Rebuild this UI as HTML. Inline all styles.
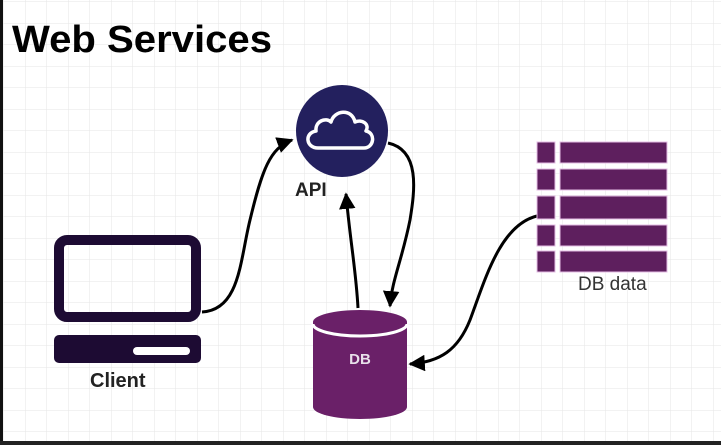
<!DOCTYPE html>
<html><head><meta charset="utf-8"><style>
html,body{margin:0;padding:0;background:#fff}
svg{display:block}
</style></head><body>
<svg width="721" height="445" viewBox="0 0 721 445" xmlns="http://www.w3.org/2000/svg">
<defs>
<pattern id="g" width="21.5" height="21.5" patternUnits="userSpaceOnUse" x="4" y="2">
<path d="M21.5 0V21.5M0 21.5H21.5" stroke="#e6e6e6" stroke-width="1" fill="none"/>
</pattern>
<marker id="a" viewBox="0 0 10 10" refX="9" refY="5" markerWidth="5.5" markerHeight="5.5" orient="auto">
<path d="M0 0L10 5L0 10z" fill="#000"/>
</marker>
</defs>
<rect width="721" height="445" fill="#fff"/>
<rect width="721" height="445" fill="url(#g)"/>
<rect x="0" y="0" width="3" height="445" fill="#111"/>
<rect x="0" y="441" width="721" height="4" fill="#222"/>
<text x="12" y="52" font-family="Liberation Sans, sans-serif" font-weight="bold" font-size="38" textLength="260" lengthAdjust="spacingAndGlyphs" fill="#000">Web Services</text>

<g fill="none" stroke="#000" stroke-width="3">
<path d="M202 312 C240 310 240 260 250 220 C262 170 270 148 292 140" marker-end="url(#a)"/>
<path d="M388 143 C420 150 415 190 410 220 C402 260 392 280 390 306" marker-end="url(#a)"/>
<path d="M358 308 C356 270 350 240 346 194" marker-end="url(#a)"/>
<path d="M537 216 C500 225 485 280 470 320 C458 350 440 362 410 364" marker-end="url(#a)"/>
</g>

<circle cx="342" cy="131" r="46" fill="#23205e"/>
<path d="M318 148 C306 148 304 133 316 131 C315 121 326 117 331 122 C334 110 352 108 355 122 C362 119 370 124 366 131 C376 133 374 148 364 148 Z" fill="none" stroke="#fff" stroke-width="3.5" stroke-linejoin="round"/>
<text x="295" y="196" font-family="Liberation Sans, sans-serif" font-weight="bold" font-size="19" fill="#222">API</text>

<rect x="59" y="240" width="137" height="77" rx="8" fill="none" stroke="#1d0b33" stroke-width="10"/>
<rect x="54" y="335" width="147" height="28" rx="5" fill="#1d0b33"/>
<rect x="133" y="347" width="57" height="8" rx="4" fill="#fff"/>
<text x="90" y="387" font-family="Liberation Sans, sans-serif" font-weight="bold" font-size="20" fill="#222">Client</text>

<path d="M313 322 L313 407 A47 12 0 0 0 407 407 L407 322 Z" fill="#6a2068"/>
<ellipse cx="360" cy="322" rx="47" ry="12" fill="#6a2068"/>
<path d="M313 324 A47 12 0 0 0 407 324" fill="none" stroke="#fff" stroke-width="3"/>
<text x="360" y="364" text-anchor="middle" font-family="Liberation Sans, sans-serif" font-weight="bold" font-size="15" fill="#e8e0ea">DB</text>

<g fill="#5e1f5e" stroke="#e4bde4" stroke-width="1">
<rect x="537" y="142" width="18" height="21"/><rect x="560" y="142" width="107" height="21"/>
<rect x="537" y="169" width="18" height="21"/><rect x="560" y="169" width="107" height="21"/>
<rect x="537" y="196" width="18" height="23"/><rect x="560" y="196" width="107" height="23"/>
<rect x="537" y="225" width="18" height="21"/><rect x="560" y="225" width="107" height="21"/>
<rect x="537" y="251" width="18" height="21"/><rect x="560" y="251" width="107" height="21"/>
</g>
<text x="578" y="290" font-family="Liberation Sans, sans-serif" font-size="19" fill="#333">DB data</text>
</svg>
</body></html>
